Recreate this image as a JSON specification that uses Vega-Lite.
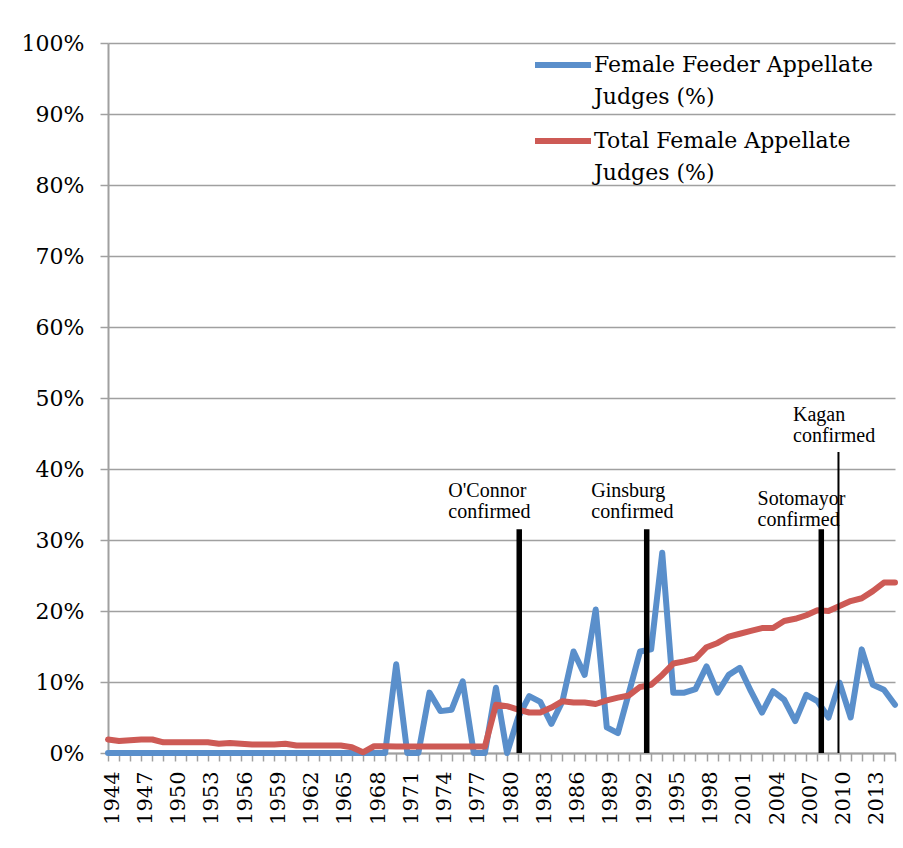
{
  "$schema": "https://vega.github.io/schema/vega-lite/v6.json",
  "width": 787,
  "height": 710,
  "autosize": {"type": "none"},
  "padding": {"left": 108, "top": 43, "right": 8, "bottom": 95},
  "background": "white",
  "config": {"view": {"stroke": null}, "axisX": {"labelOverlap": false}},
  "datasets": {
    "judges": [
      {"year":1944,"series":"Female Feeder Appellate Judges (%)","pct":0},
      {"year":1945,"series":"Female Feeder Appellate Judges (%)","pct":0},
      {"year":1946,"series":"Female Feeder Appellate Judges (%)","pct":0},
      {"year":1947,"series":"Female Feeder Appellate Judges (%)","pct":0},
      {"year":1948,"series":"Female Feeder Appellate Judges (%)","pct":0},
      {"year":1949,"series":"Female Feeder Appellate Judges (%)","pct":0},
      {"year":1950,"series":"Female Feeder Appellate Judges (%)","pct":0},
      {"year":1951,"series":"Female Feeder Appellate Judges (%)","pct":0},
      {"year":1952,"series":"Female Feeder Appellate Judges (%)","pct":0},
      {"year":1953,"series":"Female Feeder Appellate Judges (%)","pct":0},
      {"year":1954,"series":"Female Feeder Appellate Judges (%)","pct":0},
      {"year":1955,"series":"Female Feeder Appellate Judges (%)","pct":0},
      {"year":1956,"series":"Female Feeder Appellate Judges (%)","pct":0},
      {"year":1957,"series":"Female Feeder Appellate Judges (%)","pct":0},
      {"year":1958,"series":"Female Feeder Appellate Judges (%)","pct":0},
      {"year":1959,"series":"Female Feeder Appellate Judges (%)","pct":0},
      {"year":1960,"series":"Female Feeder Appellate Judges (%)","pct":0},
      {"year":1961,"series":"Female Feeder Appellate Judges (%)","pct":0},
      {"year":1962,"series":"Female Feeder Appellate Judges (%)","pct":0},
      {"year":1963,"series":"Female Feeder Appellate Judges (%)","pct":0},
      {"year":1964,"series":"Female Feeder Appellate Judges (%)","pct":0},
      {"year":1965,"series":"Female Feeder Appellate Judges (%)","pct":0},
      {"year":1966,"series":"Female Feeder Appellate Judges (%)","pct":0},
      {"year":1967,"series":"Female Feeder Appellate Judges (%)","pct":0},
      {"year":1968,"series":"Female Feeder Appellate Judges (%)","pct":0},
      {"year":1969,"series":"Female Feeder Appellate Judges (%)","pct":0},
      {"year":1970,"series":"Female Feeder Appellate Judges (%)","pct":12.5},
      {"year":1971,"series":"Female Feeder Appellate Judges (%)","pct":0},
      {"year":1972,"series":"Female Feeder Appellate Judges (%)","pct":0},
      {"year":1973,"series":"Female Feeder Appellate Judges (%)","pct":8.5},
      {"year":1974,"series":"Female Feeder Appellate Judges (%)","pct":5.9},
      {"year":1975,"series":"Female Feeder Appellate Judges (%)","pct":6.1},
      {"year":1976,"series":"Female Feeder Appellate Judges (%)","pct":10.1},
      {"year":1977,"series":"Female Feeder Appellate Judges (%)","pct":0},
      {"year":1978,"series":"Female Feeder Appellate Judges (%)","pct":0},
      {"year":1979,"series":"Female Feeder Appellate Judges (%)","pct":9.2},
      {"year":1980,"series":"Female Feeder Appellate Judges (%)","pct":0},
      {"year":1981,"series":"Female Feeder Appellate Judges (%)","pct":5.0},
      {"year":1982,"series":"Female Feeder Appellate Judges (%)","pct":8.0},
      {"year":1983,"series":"Female Feeder Appellate Judges (%)","pct":7.2},
      {"year":1984,"series":"Female Feeder Appellate Judges (%)","pct":4.1},
      {"year":1985,"series":"Female Feeder Appellate Judges (%)","pct":7.3},
      {"year":1986,"series":"Female Feeder Appellate Judges (%)","pct":14.3},
      {"year":1987,"series":"Female Feeder Appellate Judges (%)","pct":11.0},
      {"year":1988,"series":"Female Feeder Appellate Judges (%)","pct":20.2},
      {"year":1989,"series":"Female Feeder Appellate Judges (%)","pct":3.6},
      {"year":1990,"series":"Female Feeder Appellate Judges (%)","pct":2.8},
      {"year":1991,"series":"Female Feeder Appellate Judges (%)","pct":8.5},
      {"year":1992,"series":"Female Feeder Appellate Judges (%)","pct":14.3},
      {"year":1993,"series":"Female Feeder Appellate Judges (%)","pct":14.6},
      {"year":1994,"series":"Female Feeder Appellate Judges (%)","pct":28.2},
      {"year":1995,"series":"Female Feeder Appellate Judges (%)","pct":8.5},
      {"year":1996,"series":"Female Feeder Appellate Judges (%)","pct":8.5},
      {"year":1997,"series":"Female Feeder Appellate Judges (%)","pct":9.0},
      {"year":1998,"series":"Female Feeder Appellate Judges (%)","pct":12.2},
      {"year":1999,"series":"Female Feeder Appellate Judges (%)","pct":8.5},
      {"year":2000,"series":"Female Feeder Appellate Judges (%)","pct":11.0},
      {"year":2001,"series":"Female Feeder Appellate Judges (%)","pct":12.0},
      {"year":2002,"series":"Female Feeder Appellate Judges (%)","pct":8.7},
      {"year":2003,"series":"Female Feeder Appellate Judges (%)","pct":5.7},
      {"year":2004,"series":"Female Feeder Appellate Judges (%)","pct":8.7},
      {"year":2005,"series":"Female Feeder Appellate Judges (%)","pct":7.5},
      {"year":2006,"series":"Female Feeder Appellate Judges (%)","pct":4.5},
      {"year":2007,"series":"Female Feeder Appellate Judges (%)","pct":8.2},
      {"year":2008,"series":"Female Feeder Appellate Judges (%)","pct":7.3},
      {"year":2009,"series":"Female Feeder Appellate Judges (%)","pct":5.0},
      {"year":2010,"series":"Female Feeder Appellate Judges (%)","pct":9.9},
      {"year":2011,"series":"Female Feeder Appellate Judges (%)","pct":5.0},
      {"year":2012,"series":"Female Feeder Appellate Judges (%)","pct":14.6},
      {"year":2013,"series":"Female Feeder Appellate Judges (%)","pct":9.6},
      {"year":2014,"series":"Female Feeder Appellate Judges (%)","pct":8.9},
      {"year":2015,"series":"Female Feeder Appellate Judges (%)","pct":6.8},
      {"year":1944,"series":"Total Female Appellate Judges (%)","pct":1.9},
      {"year":1945,"series":"Total Female Appellate Judges (%)","pct":1.7},
      {"year":1946,"series":"Total Female Appellate Judges (%)","pct":1.8},
      {"year":1947,"series":"Total Female Appellate Judges (%)","pct":1.9},
      {"year":1948,"series":"Total Female Appellate Judges (%)","pct":1.9},
      {"year":1949,"series":"Total Female Appellate Judges (%)","pct":1.5},
      {"year":1950,"series":"Total Female Appellate Judges (%)","pct":1.5},
      {"year":1951,"series":"Total Female Appellate Judges (%)","pct":1.5},
      {"year":1952,"series":"Total Female Appellate Judges (%)","pct":1.5},
      {"year":1953,"series":"Total Female Appellate Judges (%)","pct":1.5},
      {"year":1954,"series":"Total Female Appellate Judges (%)","pct":1.3},
      {"year":1955,"series":"Total Female Appellate Judges (%)","pct":1.4},
      {"year":1956,"series":"Total Female Appellate Judges (%)","pct":1.3},
      {"year":1957,"series":"Total Female Appellate Judges (%)","pct":1.2},
      {"year":1958,"series":"Total Female Appellate Judges (%)","pct":1.2},
      {"year":1959,"series":"Total Female Appellate Judges (%)","pct":1.2},
      {"year":1960,"series":"Total Female Appellate Judges (%)","pct":1.3},
      {"year":1961,"series":"Total Female Appellate Judges (%)","pct":1.05},
      {"year":1962,"series":"Total Female Appellate Judges (%)","pct":1.05},
      {"year":1963,"series":"Total Female Appellate Judges (%)","pct":1.05},
      {"year":1964,"series":"Total Female Appellate Judges (%)","pct":1.05},
      {"year":1965,"series":"Total Female Appellate Judges (%)","pct":1.05},
      {"year":1966,"series":"Total Female Appellate Judges (%)","pct":0.8},
      {"year":1967,"series":"Total Female Appellate Judges (%)","pct":0.1},
      {"year":1968,"series":"Total Female Appellate Judges (%)","pct":0.95},
      {"year":1969,"series":"Total Female Appellate Judges (%)","pct":0.95},
      {"year":1970,"series":"Total Female Appellate Judges (%)","pct":0.9},
      {"year":1971,"series":"Total Female Appellate Judges (%)","pct":0.9},
      {"year":1972,"series":"Total Female Appellate Judges (%)","pct":0.9},
      {"year":1973,"series":"Total Female Appellate Judges (%)","pct":0.9},
      {"year":1974,"series":"Total Female Appellate Judges (%)","pct":0.9},
      {"year":1975,"series":"Total Female Appellate Judges (%)","pct":0.9},
      {"year":1976,"series":"Total Female Appellate Judges (%)","pct":0.9},
      {"year":1977,"series":"Total Female Appellate Judges (%)","pct":0.9},
      {"year":1978,"series":"Total Female Appellate Judges (%)","pct":0.9},
      {"year":1979,"series":"Total Female Appellate Judges (%)","pct":6.8},
      {"year":1980,"series":"Total Female Appellate Judges (%)","pct":6.6},
      {"year":1981,"series":"Total Female Appellate Judges (%)","pct":6.1},
      {"year":1982,"series":"Total Female Appellate Judges (%)","pct":5.7},
      {"year":1983,"series":"Total Female Appellate Judges (%)","pct":5.7},
      {"year":1984,"series":"Total Female Appellate Judges (%)","pct":6.4},
      {"year":1985,"series":"Total Female Appellate Judges (%)","pct":7.3},
      {"year":1986,"series":"Total Female Appellate Judges (%)","pct":7.1},
      {"year":1987,"series":"Total Female Appellate Judges (%)","pct":7.1},
      {"year":1988,"series":"Total Female Appellate Judges (%)","pct":6.9},
      {"year":1989,"series":"Total Female Appellate Judges (%)","pct":7.4},
      {"year":1990,"series":"Total Female Appellate Judges (%)","pct":7.8},
      {"year":1991,"series":"Total Female Appellate Judges (%)","pct":8.1},
      {"year":1992,"series":"Total Female Appellate Judges (%)","pct":9.3},
      {"year":1993,"series":"Total Female Appellate Judges (%)","pct":9.6},
      {"year":1994,"series":"Total Female Appellate Judges (%)","pct":11.0},
      {"year":1995,"series":"Total Female Appellate Judges (%)","pct":12.6},
      {"year":1996,"series":"Total Female Appellate Judges (%)","pct":12.9},
      {"year":1997,"series":"Total Female Appellate Judges (%)","pct":13.3},
      {"year":1998,"series":"Total Female Appellate Judges (%)","pct":14.9},
      {"year":1999,"series":"Total Female Appellate Judges (%)","pct":15.5},
      {"year":2000,"series":"Total Female Appellate Judges (%)","pct":16.4},
      {"year":2001,"series":"Total Female Appellate Judges (%)","pct":16.8},
      {"year":2002,"series":"Total Female Appellate Judges (%)","pct":17.2},
      {"year":2003,"series":"Total Female Appellate Judges (%)","pct":17.6},
      {"year":2004,"series":"Total Female Appellate Judges (%)","pct":17.6},
      {"year":2005,"series":"Total Female Appellate Judges (%)","pct":18.6},
      {"year":2006,"series":"Total Female Appellate Judges (%)","pct":18.9},
      {"year":2007,"series":"Total Female Appellate Judges (%)","pct":19.4},
      {"year":2008,"series":"Total Female Appellate Judges (%)","pct":20.1},
      {"year":2009,"series":"Total Female Appellate Judges (%)","pct":20.0},
      {"year":2010,"series":"Total Female Appellate Judges (%)","pct":20.7},
      {"year":2011,"series":"Total Female Appellate Judges (%)","pct":21.4},
      {"year":2012,"series":"Total Female Appellate Judges (%)","pct":21.8},
      {"year":2013,"series":"Total Female Appellate Judges (%)","pct":22.8},
      {"year":2014,"series":"Total Female Appellate Judges (%)","pct":24.0},
      {"year":2015,"series":"Total Female Appellate Judges (%)","pct":24.0}
    ],
    "events": [
      {"event":"O'Connor","year":1981.1,"pct":31.5,"kind":"major"},
      {"event":"Ginsburg","year":1992.6,"pct":31.5,"kind":"major"},
      {"event":"Sotomayor","year":2008.35,"pct":31.5,"kind":"major"},
      {"event":"Kagan","year":2009.9,"pct":42.4,"kind":"minor"}
    ],
    "notes": [
      {"label":"O'Connor confirmed","year":1974.7,"pct":36.1},
      {"label":"Ginsburg confirmed","year":1987.6,"pct":36.1},
      {"label":"Sotomayor confirmed","year":2002.6,"pct":35.0},
      {"label":"Kagan confirmed","year":2005.8,"pct":46.7}
    ]
  },
  "layer": [
    {
      "data": {"name": "judges"},
      "mark": {"type": "line", "strokeWidth": 6, "strokeCap": "round", "strokeJoin": "round"},
      "encoding": {
        "x": {
          "field": "year", "type": "quantitative",
          "scale": {"domain": [1944, 2015], "nice": false, "zero": false},
          "axis": {
            "title": null,
            "values": [1944,1945,1946,1947,1948,1949,1950,1951,1952,1953,1954,1955,1956,1957,1958,1959,1960,1961,1962,1963,1964,1965,1966,1967,1968,1969,1970,1971,1972,1973,1974,1975,1976,1977,1978,1979,1980,1981,1982,1983,1984,1985,1986,1987,1988,1989,1990,1991,1992,1993,1994,1995,1996,1997,1998,1999,2000,2001,2002,2003,2004,2005,2006,2007,2008,2009,2010,2011,2012,2013,2014,2015],
            "tickCount": 200,
            "format": "d",
            "labelExpr": "(datum.value - 1944) % 3 == 0 ? datum.label : ''",
            "labelAngle": -90,
            "labelFont": "DejaVu Serif",
            "labelFontSize": {"condition": {"test": "(datum.value - 1944) % 3 == 0", "value": 21}, "value": 0},
            "labelColor": "black",
            "labelOffset": 4,
            "labelPadding": 10,
            "labelOverlap": false,
            "labelFlush": false,
            "labelBound": false,
            "tickSize": 8,
            "tickWidth": 1.5,
            "tickColor": "#A0A0A0",
            "domainColor": "#A0A0A0",
            "domainWidth": 2,
            "grid": false
          }
        },
        "y": {
          "field": "pct", "type": "quantitative",
          "scale": {"domain": [0, 100], "nice": false},
          "axis": {
            "title": null,
            "values": [0,10,20,30,40,50,60,70,80,90,100],
            "tickCount": 50,
            "labelExpr": "datum.value + '%'",
            "labelFont": "DejaVu Serif",
            "labelFontSize": 22,
            "labelColor": "black",
            "labelPadding": 16,
            "labelFlush": false,
            "labelBound": false,
            "tickSize": 8,
            "tickWidth": 1.5,
            "tickColor": "#A0A0A0",
            "domainColor": "#A0A0A0",
            "domainWidth": 2,
            "grid": true,
            "gridColor": "#A0A0A0",
            "gridWidth": 1.5
          }
        },
        "color": {
          "field": "series", "type": "nominal",
          "scale": {
            "domain": ["Female Feeder Appellate Judges (%)", "Total Female Appellate Judges (%)"],
            "range": ["#5A8FCB", "#CD5A55"]
          },
          "legend": {
            "orient": "none",
            "legendX": 424,
            "legendY": -9,
            "title": null,
            "padding": 0,
            "symbolType": "stroke",
            "symbolSize": 3136,
            "symbolStrokeWidth": 6,
            "symbolOpacity": 1,
            "labelFont": "DejaVu Serif",
            "labelFontSize": 22,
            "labelColor": "black",
            "labelLimit": 400,
            "labelOffset": 0,
            "rowPadding": 2,
            "labelExpr": "[slice(datum.label, 0, indexof(datum.label, ' Judges')), 'Judges (%)']",
            "encode": {
              "labels": {"update": {"lineHeight": {"value": 32}}}
            }
          }
        }
      }
    },
    {
      "data": {"name": "events"},
      "transform": [{"filter": "datum.kind == 'major'"}],
      "mark": {"type": "rule", "strokeWidth": 5.5, "color": "black"},
      "encoding": {
        "x": {"field": "year", "type": "quantitative"},
        "y": {"field": "pct", "type": "quantitative"},
        "y2": {"datum": 0}
      }
    },
    {
      "data": {"name": "events"},
      "transform": [{"filter": "datum.kind == 'minor'"}],
      "mark": {"type": "rule", "strokeWidth": 2, "color": "black"},
      "encoding": {
        "x": {"field": "year", "type": "quantitative"},
        "y": {"field": "pct", "type": "quantitative"},
        "y2": {"datum": 0}
      }
    },
    {
      "data": {"name": "notes"},
      "mark": {"type": "text", "font": "Liberation Serif", "fontSize": 20, "align": "left", "baseline": "alphabetic", "lineBreak": " ", "lineHeight": 21, "color": "black"},
      "encoding": {
        "x": {"field": "year", "type": "quantitative"},
        "y": {"field": "pct", "type": "quantitative"},
        "text": {"field": "label"}
      }
    }
  ]
}
